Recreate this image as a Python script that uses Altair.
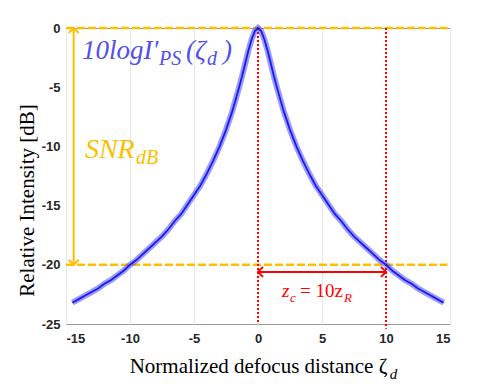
import altair as alt
import pandas as pd

# Curve: 10 log I'_PS(zeta_d)
zeta = [-14.5, -14.0, -13.5, -13.0, -12.5, -12.0, -11.5, -11.0, -10.5, -10.0,
        -9.5, -9.0, -8.5, -8.0, -7.5, -7.0, -6.5, -6.0, -5.5, -5.0,
        -4.5, -4.0, -3.5, -3.0, -2.5, -2.0, -1.5, -1.25, -1.0, -0.75, -0.5, -0.25, 0.0,
        0.25, 0.5, 0.75, 1.0, 1.25, 1.5, 2.0, 2.5, 3.0, 3.5, 4.0, 4.5,
        5.0, 5.5, 6.0, 6.5, 7.0, 7.5, 8.0, 8.5, 9.0, 9.5,
        10.0, 10.5, 11.0, 11.5, 12.0, 12.5, 13.0, 13.5, 14.0, 14.5]
intensity_db = [-23.2, -22.9, -22.6, -22.3, -22.0, -21.6, -21.3, -20.9, -20.5, -20.0,
                -19.6, -19.1, -18.6, -18.1, -17.6, -17.0, -16.3, -15.7, -14.9, -14.1,
                -13.3, -12.3, -11.2, -10.0, -8.6, -7.0, -5.1, -4.1, -3.0, -1.9, -0.97, -0.26, 0.0,
                -0.26, -0.97, -1.9, -3.0, -4.1, -5.1, -7.0, -8.6, -10.0, -11.2, -12.3, -13.3,
                -14.1, -14.9, -15.7, -16.3, -17.0, -17.6, -18.1, -18.6, -19.1, -19.6,
                -20.0, -20.5, -20.9, -21.3, -21.6, -22.0, -22.3, -22.6, -22.9, -23.2]

x_ticks = [-15, -10, -5, 0, 5, 10, 15]
y_ticks = [-25, -20, -15, -10, -5, 0]

# annotation values
snr_levels = [0, -20]
marker_positions = [0, 10]
snr_arrow_x = -14.4
zc_arrow_y = -20.6

ORANGE = "#FFBF00"
RED = "#FF0000"
BLUE_TXT = "#4F4FF2"

curve = pd.DataFrame({"z": zeta, "I": intensity_db})

xs = alt.Scale(domain=[-15, 15], nice=False, zero=False)
ys = alt.Scale(domain=[-25, 0], nice=False, zero=False)

X = lambda f="z", **k: alt.X(f, type="quantitative", scale=xs, **k)
Y = lambda f="I", **k: alt.Y(f, type="quantitative", scale=ys, **k)

base_axes = alt.Chart(curve).mark_line(opacity=0).encode(
    x=X(axis=alt.Axis(values=x_ticks, title="Normalized defocus distance ζ",
                      labelExpr="toString(datum.value)", grid=True, gridColor="#e8e8e8",
                      ticks=False, domain=False, labelPadding=8,
                      titleFont="Liberation Serif", titleFontSize=21, titleFontWeight="normal",
                      titleColor="#000", titlePadding=10)),
    y=Y(axis=alt.Axis(values=y_ticks, title="Relative Intensity [dB]",
                      labelExpr="toString(datum.value)", grid=False,
                      ticks=False, domain=False, labelPadding=6,
                      titleFont="Liberation Serif", titleFontSize=21, titleFontWeight="normal",
                      titleColor="#000", titleX=-33, titleY=172, titleBaseline="alphabetic",
                      titleAngle=270, titleAlign="center")),
)

halo = alt.Chart(curve).mark_line(color="#3a3aff", strokeWidth=6, opacity=0.5).encode(x=X(), y=Y())
core = alt.Chart(curve).mark_line(color="#0c0ce8", strokeWidth=1.8, opacity=0.9).encode(x=X(), y=Y())

hl = pd.DataFrame({"y": snr_levels, "x1": [-15] * 2, "x2": [14.8] * 2})
hlines = alt.Chart(hl).mark_rule(color=ORANGE, strokeWidth=2.5, strokeDash=[8, 3]).encode(
    x=X("x1"), x2="x2", y=Y("y"))

vl = pd.DataFrame({"x": marker_positions, "y1": [0, 0], "y2": [-25, -25.4]})
vlines = alt.Chart(vl).mark_rule(color=RED, strokeWidth=2, strokeDash=[2, 2]).encode(
    x=X("x"), y=Y("y1"), y2="y2")

va = pd.DataFrame({"x": [snr_arrow_x], "y1": [snr_levels[0]], "y2": [snr_levels[1]]})
varrow = alt.Chart(va).mark_rule(color=ORANGE, strokeWidth=2).encode(x=X("x"), y=Y("y1"), y2="y2")
vhead_up = alt.Chart(va).mark_point(shape="M-1,1L0,0L1,1", size=100, filled=False,
                                    color=ORANGE, strokeWidth=2, opacity=1).encode(x=X("x"), y=Y("y1"))
vhead_dn = alt.Chart(va).mark_point(shape="M-1,-1L0,0L1,-1", size=100, filled=False,
                                    color=ORANGE, strokeWidth=2, opacity=1).encode(x=X("x"), y=Y("y2"))

ha = pd.DataFrame({"x1": [marker_positions[0]], "x2": [marker_positions[1]], "y": [zc_arrow_y]})
harrow = alt.Chart(ha).mark_rule(color=RED, strokeWidth=2).encode(x=X("x1"), x2="x2", y=Y("y"))
hhead_l = alt.Chart(ha).mark_point(shape="M1,-1L0,0L1,1", size=100, filled=False,
                                   color=RED, strokeWidth=2, opacity=1).encode(x=X("x1"), y=Y("y"))
hhead_r = alt.Chart(ha).mark_point(shape="M-1,-1L0,0L-1,1", size=100, filled=False,
                                   color=RED, strokeWidth=2, opacity=1).encode(x=X("x2"), y=Y("y"))


def txt(s, x, y, color, size, dx=0, dy=0, style="italic"):
    d = pd.DataFrame({"x": [x], "y": [y], "t": [s]})
    return alt.Chart(d).mark_text(align="left", baseline="alphabetic", font="Liberation Serif",
                                  fontStyle=style, fontSize=size, color=color, dx=dx, dy=dy).encode(
        x=X("x"), y=Y("y"), text="t:N")


# blue label 10logI'_PS(zeta_d)
bx, by = -13.75, -2.62
blue = [
    txt("10logI′", bx, by, BLUE_TXT, 27, 0, 0),
    txt("PS", bx, by, BLUE_TXT, 20, 77, 6),
    txt("(ζ", bx, by, BLUE_TXT, 27, 104, 0),
    txt("d", bx, by, BLUE_TXT, 20, 125, 6),
    txt(")", bx, by, BLUE_TXT, 27, 141, 0),
]
# SNR_dB
sx, sy = -13.52, -10.98
snr = [
    txt("SNR", sx, sy, ORANGE, 28, 0, 0),
    txt("dB", sx, sy, ORANGE, 20, 51, 6),
]
# z_c = 10 z_R
zx, zy = 1.875, -22.7
zc = [
    txt("z", zx, zy, RED, 19, 0, 0),
    txt("c", zx, zy, RED, 13, 8, 5),
    txt("= 10z", zx, zy, RED, 19, 18, 0, style="normal"),
    txt("R", zx, zy, RED, 13, 62, 5),
]
# subscript d of the x axis title
xsub = txt("d", 10.3, -25, "#000", 15, 0, 55)

chart = alt.layer(
    base_axes, hlines, vlines, halo, core, varrow, vhead_up, vhead_dn,
    harrow, hhead_l, hhead_r, *blue, *snr, *zc, xsub
).properties(
    width=384, height=296,
    autosize=alt.AutoSizeParams(type="none"),
    padding={"left": 58, "top": 20, "right": 40, "bottom": 59},
).configure_view(stroke="#9a9a9a", strokeWidth=1).configure_axis(
    labelFont="Liberation Sans", labelFontWeight="bold", labelFontSize=13, labelColor="#262626"
)

chart.save("out.html", embed_options={"renderer": "svg", "actions": False})
